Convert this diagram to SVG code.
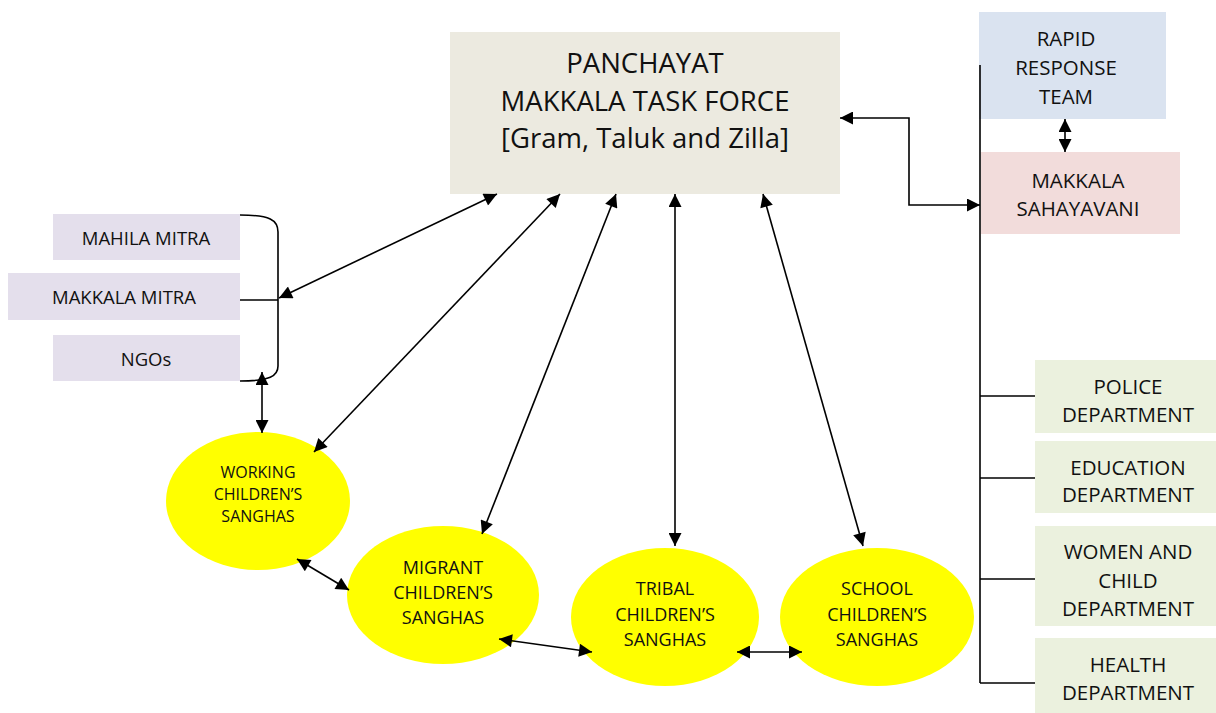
<svg xmlns="http://www.w3.org/2000/svg" width="1216" height="713" viewBox="0 0 1216 713">
<style>
text{font-family:"Open Sans","Liberation Sans",sans-serif;fill:#111;text-anchor:middle}
.ln{stroke:#000;stroke-width:1.6;fill:none}
.ar{stroke:#000;stroke-width:1.6;fill:none;marker-start:url(#ah);marker-end:url(#ah)}
.ell{fill:#FFFF00}
.big{font-size:27.5px}
.rt{font-size:20.5px}
.lf{font-size:18.5px}
.w{font-size:16px}
.e{font-size:18px}
</style>
<defs>
<marker id="ah" viewBox="0 0 10 10" refX="10" refY="5" markerWidth="15" markerHeight="13" markerUnits="userSpaceOnUse" orient="auto-start-reverse">
<path d="M0,0 L10,5 L0,10 z" fill="#000"/>
</marker>
</defs>
<rect width="1216" height="713" fill="#fff"/>

<g id="task-force">
<rect x="450" y="32" width="390" height="162" fill="#ECEAE0"/>
<text x="645" y="73" class="big">PANCHAYAT</text>
<text x="645" y="111" class="big">MAKKALA TASK FORCE</text>
<text x="645" y="148" class="big">[Gram, Taluk and Zilla]</text>
</g>

<g id="rapid-response">
<rect x="979" y="12" width="187" height="107" fill="#DAE3F0"/>
<text x="1066" y="46" class="rt">RAPID</text>
<text x="1066" y="75" class="rt">RESPONSE</text>
<text x="1066" y="104" class="rt">TEAM</text>
</g>

<g id="sahayavani">
<rect x="981" y="152" width="199" height="82" fill="#F2DCDB"/>
<text x="1078" y="188" class="rt">MAKKALA</text>
<text x="1078" y="216" class="rt">SAHAYAVANI</text>
</g>

<g id="police">
<rect x="1035" y="360" width="181" height="73" fill="#EBF1DE"/>
<text x="1128" y="394" class="rt">POLICE</text>
<text x="1128" y="422" class="rt">DEPARTMENT</text>
</g>
<g id="education">
<rect x="1035" y="441" width="181" height="72" fill="#EBF1DE"/>
<text x="1128" y="475" class="rt">EDUCATION</text>
<text x="1128" y="502" class="rt">DEPARTMENT</text>
</g>
<g id="women-child">
<rect x="1035" y="526" width="181" height="100" fill="#EBF1DE"/>
<text x="1128" y="559" class="rt">WOMEN AND</text>
<text x="1128" y="588" class="rt">CHILD</text>
<text x="1128" y="616" class="rt">DEPARTMENT</text>
</g>
<g id="health">
<rect x="1035" y="638" width="181" height="75" fill="#EBF1DE"/>
<text x="1128" y="672" class="rt">HEALTH</text>
<text x="1128" y="700" class="rt">DEPARTMENT</text>
</g>

<g id="mahila-mitra">
<rect x="53" y="214" width="187" height="46" fill="#E4DFEC"/>
<text x="146" y="245" class="lf">MAHILA MITRA</text>
</g>
<g id="makkala-mitra">
<rect x="8" y="273" width="232" height="47" fill="#E4DFEC"/>
<text x="124" y="304" class="lf">MAKKALA MITRA</text>
</g>
<g id="ngos">
<rect x="53" y="335" width="187" height="46" fill="#E4DFEC"/>
<text x="146" y="366" class="lf">NGOs</text>
</g>

<g id="working">
<ellipse class="ell" cx="258" cy="501" rx="92" ry="69"/>
<text x="258" y="478" class="w">WORKING</text>
<text x="258" y="500" class="w">CHILDREN’S</text>
<text x="258" y="522" class="w">SANGHAS</text>
</g>
<g id="migrant">
<ellipse class="ell" cx="443" cy="595" rx="96" ry="69"/>
<text x="443" y="574" class="e">MIGRANT</text>
<text x="443" y="599" class="e">CHILDREN’S</text>
<text x="443" y="624" class="e">SANGHAS</text>
</g>
<g id="tribal">
<ellipse class="ell" cx="665" cy="617" rx="94" ry="69"/>
<text x="665" y="595" class="e">TRIBAL</text>
<text x="665" y="621" class="e">CHILDREN’S</text>
<text x="665" y="646" class="e">SANGHAS</text>
</g>
<g id="school">
<ellipse class="ell" cx="877" cy="617" rx="97" ry="69"/>
<text x="877" y="595" class="e">SCHOOL</text>
<text x="877" y="621" class="e">CHILDREN’S</text>
<text x="877" y="646" class="e">SANGHAS</text>
</g>

<g id="connectors">
<line class="ln" x1="980" y1="65" x2="980" y2="683"/>
<line class="ln" x1="980" y1="396" x2="1035" y2="396"/>
<line class="ln" x1="980" y1="478" x2="1035" y2="478"/>
<line class="ln" x1="980" y1="579" x2="1035" y2="579"/>
<line class="ln" x1="980" y1="683" x2="1035" y2="683"/>
<polyline class="ar" points="840,118 909,118 909,205 980,205"/>
<line class="ar" x1="1065" y1="119" x2="1065" y2="152"/>
<path class="ln" d="M240,215 C270,215 278,220 278,232 L278,366 C278,376 270,381 240,381"/>
<line class="ln" x1="240" y1="300" x2="278" y2="300"/>
<line class="ar" x1="497" y1="194" x2="279" y2="298"/>
<line class="ar" x1="262" y1="372" x2="262" y2="433"/>
<line class="ar" x1="560" y1="194" x2="314" y2="452"/>
<line class="ar" x1="616" y1="194" x2="482" y2="534"/>
<line class="ar" x1="675" y1="194" x2="675" y2="546"/>
<line class="ar" x1="763" y1="194" x2="863" y2="546"/>
<line class="ar" x1="297" y1="559" x2="349" y2="590"/>
<line class="ar" x1="499" y1="639" x2="592" y2="652"/>
<line class="ar" x1="737" y1="652" x2="802" y2="652"/>
</g>
</svg>
